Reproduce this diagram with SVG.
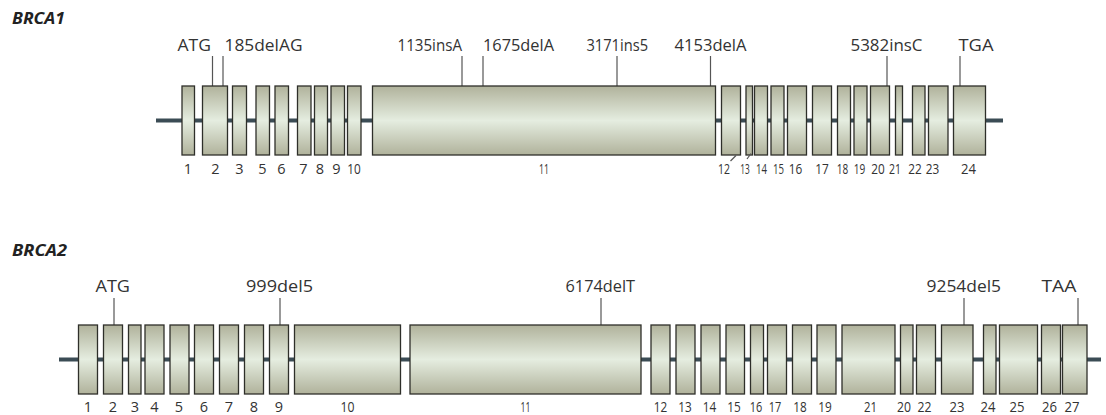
<svg xmlns="http://www.w3.org/2000/svg" width="1106" height="415" viewBox="0 0 1106 415">
<defs>
<linearGradient id="exg" x1="0" y1="0" x2="0" y2="1">
<stop offset="0" stop-color="#b0b29b"/>
<stop offset="0.5" stop-color="#e5ede0"/>
<stop offset="1" stop-color="#b0b29b"/>
</linearGradient>
<style>
.ex{fill:url(#exg);stroke:#2e2f2a;stroke-width:1.3}
.bb{stroke:#3b4c55;stroke-width:4;fill:none}
.ld{stroke:#555;stroke-width:1.2;fill:none}
.mut{font-family:"Open Sans","Liberation Sans",sans-serif;font-size:16px;fill:#333}
.num{font-family:"Open Sans","Liberation Sans",sans-serif;font-size:14.5px;fill:#333;text-anchor:middle}
.ttl{font-family:"Open Sans","Liberation Sans",sans-serif;font-size:16px;font-weight:bold;font-style:italic;fill:#222}
</style>
</defs>
<rect width="1106" height="415" fill="#ffffff"/>

<text class="ttl" x="12" y="23.5" textLength="53" lengthAdjust="spacingAndGlyphs">BRCA1</text>
<text class="ttl" x="12" y="256" textLength="55" lengthAdjust="spacingAndGlyphs">BRCA2</text>

<g id="connectors">
<line class="bb" x1="156" y1="120.5" x2="1003" y2="120.5"/>
<line class="bb" x1="59" y1="359.5" x2="1101" y2="359.5"/>
<line class="ld" x1="212.5" y1="56" x2="212.5" y2="86"/>
<line class="ld" x1="223" y1="56" x2="223" y2="86"/>
<line class="ld" x1="462" y1="56" x2="462" y2="86"/>
<line class="ld" x1="483" y1="56" x2="483" y2="86"/>
<line class="ld" x1="617" y1="56" x2="617" y2="86"/>
<line class="ld" x1="710.5" y1="56" x2="710.5" y2="86"/>
<line class="ld" x1="887" y1="56" x2="887" y2="86"/>
<line class="ld" x1="960" y1="56" x2="960" y2="86"/>
<line class="ld" x1="114" y1="298" x2="114" y2="325"/>
<line class="ld" x1="280" y1="298" x2="280" y2="325"/>
<line class="ld" x1="601" y1="298" x2="601" y2="325"/>
<line class="ld" x1="964" y1="298" x2="964" y2="325"/>
<line class="ld" x1="1078" y1="298" x2="1078" y2="325"/>
</g>

<g id="brca1-exons">
<g id="b1-e1"><rect class="ex" x="182" y="86" width="12.5" height="69"/><text class="num" x="188" y="174">1</text></g>
<g id="b1-e2"><rect class="ex" x="202.5" y="86" width="25" height="69"/><text class="num" x="215.5" y="174">2</text></g>
<g id="b1-e3"><rect class="ex" x="232.5" y="86" width="14" height="69"/><text class="num" x="239.5" y="174">3</text></g>
<g id="b1-e5"><rect class="ex" x="256" y="86" width="13.5" height="69"/><text class="num" x="262.5" y="174">5</text></g>
<g id="b1-e6"><rect class="ex" x="275" y="86" width="13.5" height="69"/><text class="num" x="281.5" y="174">6</text></g>
<g id="b1-e7"><rect class="ex" x="297.5" y="86" width="13.5" height="69"/><text class="num" x="303.5" y="174">7</text></g>
<g id="b1-e8"><rect class="ex" x="314.5" y="86" width="13" height="69"/><text class="num" x="320" y="174">8</text></g>
<g id="b1-e9"><rect class="ex" x="331" y="86" width="13.5" height="69"/><text class="num" x="336.5" y="174">9</text></g>
<g id="b1-e10"><rect class="ex" x="347.5" y="86" width="13.5" height="69"/><text class="num" x="354" y="174" textLength="13.5" lengthAdjust="spacingAndGlyphs">10</text></g>
<g id="b1-e11"><rect class="ex" x="372.5" y="86" width="343" height="69"/><text class="num" x="544" y="174" textLength="10" lengthAdjust="spacingAndGlyphs">11</text></g>
<g id="b1-e12"><rect class="ex" x="721.5" y="86" width="19" height="69"/><text class="num" x="724" y="174" textLength="12" lengthAdjust="spacingAndGlyphs">12</text><line class="ld" x1="730.5" y1="161" x2="736" y2="155.5"/></g>
<g id="b1-e13"><rect class="ex" x="746" y="86" width="6.5" height="69"/><text class="num" x="745" y="174" textLength="9.5" lengthAdjust="spacingAndGlyphs">13</text><line class="ld" x1="747" y1="159" x2="751" y2="153.5"/></g>
<g id="b1-e14"><rect class="ex" x="754.5" y="86" width="13" height="69"/><text class="num" x="761.5" y="174" textLength="11" lengthAdjust="spacingAndGlyphs">14</text></g>
<g id="b1-e15"><rect class="ex" x="771" y="86" width="13" height="69"/><text class="num" x="778.5" y="174" textLength="11" lengthAdjust="spacingAndGlyphs">15</text></g>
<g id="b1-e16"><rect class="ex" x="787.5" y="86" width="19" height="69"/><text class="num" x="795.5" y="174" textLength="13.5" lengthAdjust="spacingAndGlyphs">16</text></g>
<g id="b1-e17"><rect class="ex" x="812.5" y="86" width="19" height="69"/><text class="num" x="822" y="174" textLength="13.5" lengthAdjust="spacingAndGlyphs">17</text></g>
<g id="b1-e18"><rect class="ex" x="837.5" y="86" width="13" height="69"/><text class="num" x="842.5" y="174" textLength="11.5" lengthAdjust="spacingAndGlyphs">18</text></g>
<g id="b1-e19"><rect class="ex" x="854" y="86" width="13" height="69"/><text class="num" x="859.5" y="174" textLength="11.5" lengthAdjust="spacingAndGlyphs">19</text></g>
<g id="b1-e20"><rect class="ex" x="870.5" y="86" width="19" height="69"/><text class="num" x="878" y="174" textLength="13.5" lengthAdjust="spacingAndGlyphs">20</text></g>
<g id="b1-e21"><rect class="ex" x="895.5" y="86" width="7" height="69"/><text class="num" x="895" y="174" textLength="12" lengthAdjust="spacingAndGlyphs">21</text></g>
<g id="b1-e22"><rect class="ex" x="912.5" y="86" width="12.5" height="69"/><text class="num" x="915" y="174" textLength="13.5" lengthAdjust="spacingAndGlyphs">22</text></g>
<g id="b1-e23"><rect class="ex" x="928.5" y="86" width="19.5" height="69"/><text class="num" x="932.5" y="174" textLength="13.5" lengthAdjust="spacingAndGlyphs">23</text></g>
<g id="b1-e24"><rect class="ex" x="953.5" y="86" width="32" height="69"/><text class="num" x="968.5" y="174" textLength="15" lengthAdjust="spacingAndGlyphs">24</text></g>
</g>

<g id="brca1-mutations">
<g id="b1-m-atg"><text class="mut" x="177.5" y="51" textLength="33.5" lengthAdjust="spacingAndGlyphs">ATG</text></g>
<g id="b1-m-185delAG"><text class="mut" x="224.5" y="51" textLength="78" lengthAdjust="spacingAndGlyphs">185delAG</text></g>
<g id="b1-m-1135insA"><text class="mut" x="397.5" y="51" textLength="64.5" lengthAdjust="spacingAndGlyphs">1135insA</text></g>
<g id="b1-m-1675delA"><text class="mut" x="483" y="51" textLength="71" lengthAdjust="spacingAndGlyphs">1675delA</text></g>
<g id="b1-m-3171ins5"><text class="mut" x="586.5" y="51" textLength="61.5" lengthAdjust="spacingAndGlyphs">3171ins5</text></g>
<g id="b1-m-4153delA"><text class="mut" x="674.5" y="51" textLength="72" lengthAdjust="spacingAndGlyphs">4153delA</text></g>
<g id="b1-m-5382insC"><text class="mut" x="850.5" y="51" textLength="72" lengthAdjust="spacingAndGlyphs">5382insC</text></g>
<g id="b1-m-tga"><text class="mut" x="958.5" y="51" textLength="35" lengthAdjust="spacingAndGlyphs">TGA</text></g>
</g>

<g id="brca2-exons">
<g id="b2-e1"><rect class="ex" x="78.5" y="325" width="19" height="69"/><text class="num" x="88" y="411.5">1</text></g>
<g id="b2-e2"><rect class="ex" x="103.5" y="325" width="19" height="69"/><text class="num" x="113" y="411.5">2</text></g>
<g id="b2-e3"><rect class="ex" x="128.5" y="325" width="12.5" height="69"/><text class="num" x="135" y="411.5">3</text></g>
<g id="b2-e4"><rect class="ex" x="145" y="325" width="19" height="69"/><text class="num" x="154.5" y="411.5">4</text></g>
<g id="b2-e5"><rect class="ex" x="170" y="325" width="19" height="69"/><text class="num" x="179" y="411.5">5</text></g>
<g id="b2-e6"><rect class="ex" x="194.5" y="325" width="19" height="69"/><text class="num" x="204" y="411.5">6</text></g>
<g id="b2-e7"><rect class="ex" x="219.5" y="325" width="19" height="69"/><text class="num" x="229" y="411.5">7</text></g>
<g id="b2-e8"><rect class="ex" x="244.5" y="325" width="19" height="69"/><text class="num" x="254" y="411.5">8</text></g>
<g id="b2-e9"><rect class="ex" x="269.5" y="325" width="19" height="69"/><text class="num" x="279" y="411.5">9</text></g>
<g id="b2-e10"><rect class="ex" x="294.5" y="325" width="106" height="69"/><text class="num" x="347.5" y="411.5" textLength="14" lengthAdjust="spacingAndGlyphs">10</text></g>
<g id="b2-e11"><rect class="ex" x="410" y="325" width="231" height="69"/><text class="num" x="525.5" y="411.5" textLength="10" lengthAdjust="spacingAndGlyphs">11</text></g>
<g id="b2-e12"><rect class="ex" x="651" y="325" width="19" height="69"/><text class="num" x="660.5" y="411.5" textLength="13.5" lengthAdjust="spacingAndGlyphs">12</text></g>
<g id="b2-e13"><rect class="ex" x="676" y="325" width="19" height="69"/><text class="num" x="685" y="411.5" textLength="13.5" lengthAdjust="spacingAndGlyphs">13</text></g>
<g id="b2-e14"><rect class="ex" x="701" y="325" width="19" height="69"/><text class="num" x="709.5" y="411.5" textLength="13.5" lengthAdjust="spacingAndGlyphs">14</text></g>
<g id="b2-e15"><rect class="ex" x="726" y="325" width="18.5" height="69"/><text class="num" x="734" y="411.5" textLength="13.5" lengthAdjust="spacingAndGlyphs">15</text></g>
<g id="b2-e16"><rect class="ex" x="750.5" y="325" width="13" height="69"/><text class="num" x="756" y="411.5" textLength="12.5" lengthAdjust="spacingAndGlyphs">16</text></g>
<g id="b2-e17"><rect class="ex" x="767.5" y="325" width="19" height="69"/><text class="num" x="775" y="411.5" textLength="12.5" lengthAdjust="spacingAndGlyphs">17</text></g>
<g id="b2-e18"><rect class="ex" x="792.5" y="325" width="19" height="69"/><text class="num" x="800" y="411.5" textLength="13.5" lengthAdjust="spacingAndGlyphs">18</text></g>
<g id="b2-e19"><rect class="ex" x="817" y="325" width="19" height="69"/><text class="num" x="825" y="411.5" textLength="13.5" lengthAdjust="spacingAndGlyphs">19</text></g>
<g id="b2-e21"><rect class="ex" x="842" y="325" width="53" height="69"/><text class="num" x="870.5" y="411.5" textLength="13" lengthAdjust="spacingAndGlyphs">21</text></g>
<g id="b2-e20"><rect class="ex" x="900.5" y="325" width="12.5" height="69"/><text class="num" x="904" y="411.5" textLength="14" lengthAdjust="spacingAndGlyphs">20</text></g>
<g id="b2-e22"><rect class="ex" x="916.5" y="325" width="19" height="69"/><text class="num" x="924.5" y="411.5" textLength="14" lengthAdjust="spacingAndGlyphs">22</text></g>
<g id="b2-e23"><rect class="ex" x="941.5" y="325" width="31.5" height="69"/><text class="num" x="957" y="411.5" textLength="15" lengthAdjust="spacingAndGlyphs">23</text></g>
<g id="b2-e24"><rect class="ex" x="983.5" y="325" width="12.5" height="69"/><text class="num" x="988" y="411.5" textLength="15" lengthAdjust="spacingAndGlyphs">24</text></g>
<g id="b2-e25"><rect class="ex" x="999.5" y="325" width="38" height="69"/><text class="num" x="1017" y="411.5" textLength="15" lengthAdjust="spacingAndGlyphs">25</text></g>
<g id="b2-e26"><rect class="ex" x="1041.5" y="325" width="19" height="69"/><text class="num" x="1049.5" y="411.5" textLength="15" lengthAdjust="spacingAndGlyphs">26</text></g>
<g id="b2-e27"><rect class="ex" x="1062.5" y="325" width="24.5" height="69"/><text class="num" x="1072" y="411.5" textLength="15" lengthAdjust="spacingAndGlyphs">27</text></g>
</g>

<g id="brca2-mutations">
<g id="b2-m-atg"><text class="mut" x="95.5" y="291.5" textLength="34.5" lengthAdjust="spacingAndGlyphs">ATG</text></g>
<g id="b2-m-999del5"><text class="mut" x="246" y="291.5" textLength="67" lengthAdjust="spacingAndGlyphs">999del5</text></g>
<g id="b2-m-6174delT"><text class="mut" x="565.5" y="291.5" textLength="69.5" lengthAdjust="spacingAndGlyphs">6174delT</text></g>
<g id="b2-m-9254del5"><text class="mut" x="926.5" y="291.5" textLength="74.5" lengthAdjust="spacingAndGlyphs">9254del5</text></g>
<g id="b2-m-taa"><text class="mut" x="1041.5" y="291.5" textLength="35" lengthAdjust="spacingAndGlyphs">TAA</text></g>
</g>
</svg>
